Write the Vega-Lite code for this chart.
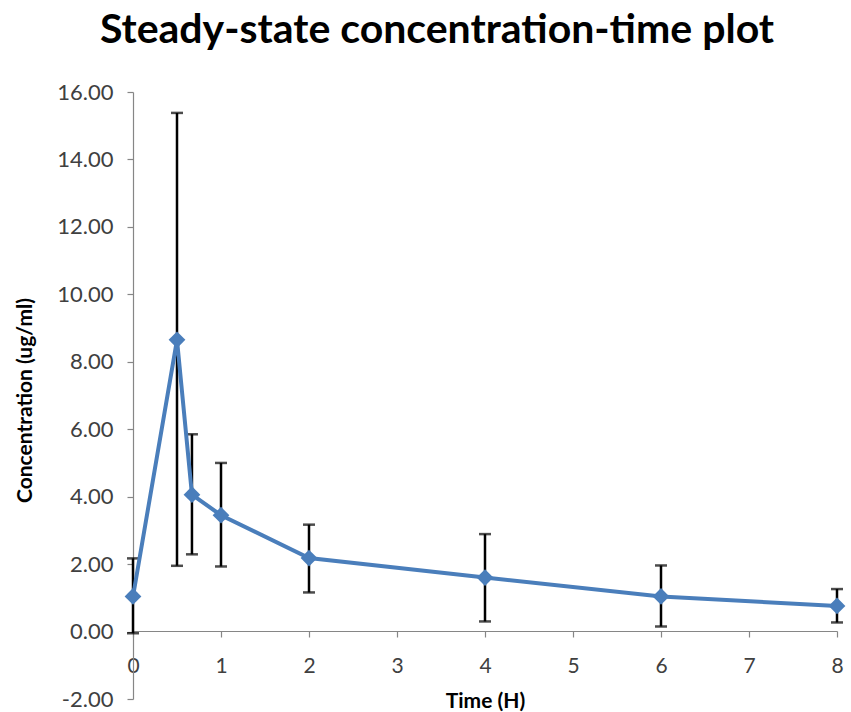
{
  "$schema": "https://vega.github.io/schema/vega-lite/v6.json",
  "autosize": "none",
  "padding": {"left": 133, "top": 92, "right": 14, "bottom": 13},
  "width": 704,
  "height": 607,
  "background": "white",
  "title": {
    "text": "Steady-state concentration-time plot",
    "font": "Lato",
    "fontSize": 41,
    "fontWeight": "bold",
    "color": "#000000",
    "anchor": "middle",
    "frame": "group",
    "baseline": "alphabetic",
    "offset": 49,
    "dx": -48,
    "dy": 52
  },
  "data": {
    "values": [
      {"time": 0, "conc": 1.04, "lo": -0.05, "hi": 2.17},
      {"time": 0.5, "conc": 8.65, "lo": 1.95, "hi": 15.38},
      {"time": 0.67, "conc": 4.06, "lo": 2.29, "hi": 5.85},
      {"time": 1, "conc": 3.45, "lo": 1.93, "hi": 5.0},
      {"time": 2, "conc": 2.18, "lo": 1.16, "hi": 3.17},
      {"time": 4, "conc": 1.6, "lo": 0.3, "hi": 2.89},
      {"time": 6, "conc": 1.04, "lo": 0.15, "hi": 1.96},
      {"time": 8, "conc": 0.76, "lo": 0.27, "hi": 1.26}
    ]
  },
  "encoding": {
    "x": {
      "field": "time",
      "type": "quantitative",
      "title": "Time (H)",
      "scale": {"domain": [0, 8], "nice": false, "zero": false},
      "axis": {
        "offset": -68,
        "values": [0, 1, 2, 3, 4, 5, 6, 7, 8],
        "tickSize": 6,
        "labelPadding": 18,
        "titlePadding": 14,
        "labelFlush": false
      }
    }
  },
  "layer": [
    {
      "mark": {
        "type": "errorbar",
        "ticks": {"size": 12, "thickness": 2.5, "color": "#000000"},
        "rule": {"strokeWidth": 2.5, "color": "#000000"}
      },
      "encoding": {
        "y": {
          "field": "lo",
          "type": "quantitative",
          "title": "Concentration (ug/ml)",
          "scale": {"domain": [-2, 16], "nice": false, "zero": false},
          "axis": {
            "values": [-2, 0, 2, 4, 6, 8, 10, 12, 14, 16],
            "labelExpr": "replace(format(datum.value, '.2f'), '\u2212', '-')",
            "tickSize": 6,
            "labelPadding": 14,
            "labelFontSize": 22,
            "labelFlush": false,
            "titleAngle": -90,
            "titleBaseline": "top",
            "titleAlign": "center",
            "titleX": -119,
            "titleY": 308
          }
        },
        "y2": {"field": "hi"}
      }
    },
    {
      "mark": {"type": "line", "color": "#4A7EBB", "strokeWidth": 4},
      "encoding": {
        "y": {
          "field": "conc",
          "type": "quantitative",
          "title": "Concentration (ug/ml)",
          "scale": {"domain": [-2, 16], "nice": false, "zero": false},
          "axis": {
            "values": [-2, 0, 2, 4, 6, 8, 10, 12, 14, 16],
            "labelExpr": "replace(format(datum.value, '.2f'), '\u2212', '-')",
            "tickSize": 6,
            "labelPadding": 14,
            "labelFontSize": 22,
            "labelFlush": false,
            "titleAngle": -90,
            "titleBaseline": "top",
            "titleAlign": "center",
            "titleX": -119,
            "titleY": 308
          }
        }
      }
    },
    {
      "mark": {"type": "point", "shape": "diamond", "filled": true, "color": "#4A7EBB", "size": 280, "opacity": 1},
      "encoding": {
        "y": {
          "field": "conc",
          "type": "quantitative",
          "title": "Concentration (ug/ml)",
          "scale": {"domain": [-2, 16], "nice": false, "zero": false},
          "axis": {
            "values": [-2, 0, 2, 4, 6, 8, 10, 12, 14, 16],
            "labelExpr": "replace(format(datum.value, '.2f'), '\u2212', '-')",
            "tickSize": 6,
            "labelPadding": 14,
            "labelFontSize": 22,
            "labelFlush": false,
            "titleAngle": -90,
            "titleBaseline": "top",
            "titleAlign": "center",
            "titleX": -119,
            "titleY": 308
          }
        }
      }
    }
  ],
  "config": {
    "view": {"stroke": null},
    "axis": {
      "grid": false,
      "domainColor": "#868686",
      "domainWidth": 1.2,
      "tickColor": "#868686",
      "tickWidth": 1.2,
      "labelFont": "Lato",
      "labelFontSize": 21,
      "labelColor": "#404040",
      "titleFont": "Lato",
      "titleFontSize": 21,
      "titleFontWeight": "bold",
      "titleColor": "#000000"
    }
  }
}
